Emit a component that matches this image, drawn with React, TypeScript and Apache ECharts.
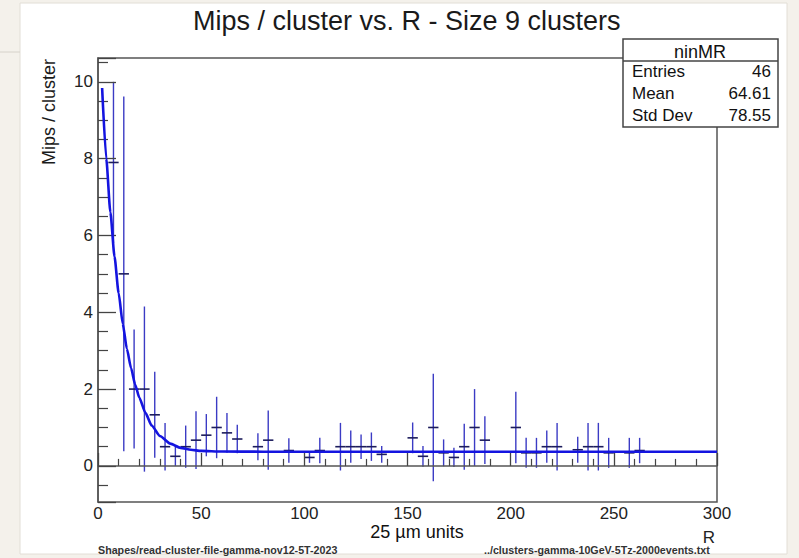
import React, { useEffect, useRef } from "react";
import * as echarts from "echarts";

// ---- data ----
const binWidth = 5;
const binCenters = [
  7.5, 12.5, 17.5, 22.5, 27.5, 32.5, 37.5, 42.5, 47.5, 52.5, 57.5, 62.5, 67.5,
  77.5, 82.5, 92.5, 102.5, 107.5, 117.5, 122.5, 127.5, 132.5, 137.5, 152.5,
  157.5, 162.5, 167.5, 172.5, 177.5, 182.5, 187.5, 202.5, 207.5, 212.5, 217.5,
  222.5, 232.5, 237.5, 242.5, 247.5, 257.5, 262.5,
];
const values = [
  7.9, 5.0, 2.0, 2.0, 1.33, 0.5, 0.25, 0.5, 0.67, 0.8, 1.0, 0.86, 0.7,
  0.5, 0.67, 0.4, 0.22, 0.4, 0.5, 0.5, 0.5, 0.5, 0.3, 0.73,
  0.25, 1.0, 0.34, 0.22, 0.5, 1.0, 0.67, 1.0, 0.34, 0.34, 0.5,
  0.5, 0.42, 0.5, 0.5, 0.34, 0.34, 0.4,
];
const errors = [
  2.1, 4.62, 1.55, 2.15, 1.12, 0.62, 0.25, 0.55, 0.75, 0.55, 0.8, 0.52, 0.37,
  0.35, 0.77, 0.32, 0.14, 0.33, 0.62, 0.42, 0.32, 0.37, 0.22, 0.4,
  0.27, 1.4, 0.35, 0.25, 0.6, 1.0, 0.62, 0.93, 0.39, 0.39, 0.42,
  0.62, 0.34, 0.62, 0.62, 0.39, 0.39, 0.33,
];
// fit curve, points
const fitR = [2, 4, 6, 8, 10, 12, 14, 16, 18, 20, 23, 26, 30, 35, 40, 45, 50, 60, 80, 300];
const fitValues = [9.84, 8.0, 6.6, 5.45, 4.5, 3.7, 3.05, 2.55, 2.12, 1.78, 1.38, 1.05, 0.78, 0.58, 0.47, 0.42, 0.39, 0.375, 0.37, 0.37];

const xMin = 0;
const xMax = 300;
const xInterval = 50;
const yMin = -0.94;
const yMax = 10.62;

const titleText = "Mips / cluster vs. R - Size 9 clusters";
const yTitle = "Mips / cluster";
const xUnits = "25 µm units";
const xTitle = "R";
const leftFooter = "Shapes/read-cluster-file-gamma-nov12-5T-2023";
const rightFooter = "../clusters-gamma-10GeV-5Tz-2000events.txt";
const statsName = "ninMR";
const statsLabels = ["Entries", "Mean", "Std Dev"];
const statsValues = ["46", "64.61", "78.55"];

const FONT = "'Liberation Sans', Arial, Helvetica, sans-serif";

export default function App() {
  const ref = useRef<HTMLDivElement>(null);

  useEffect(() => {
    if (!ref.current) return;
    const chart = echarts.init(ref.current, undefined, { renderer: "svg" });

    const errData = binCenters.map((r, i) => [r, values[i], errors[i]]);
    const fitData = fitR.map((r, i) => [r, fitValues[i]]);

    const statsRowsY = [71.5, 93.5, 115.5];
    const statsGraphics: any[] = [];
    statsLabels.forEach((lab, i) => {
      statsGraphics.push({
        type: "text",
        z: 101,
        x: 632,
        y: statsRowsY[i],
        style: { text: lab, font: `17px ${FONT}`, fill: "#111", align: "left", verticalAlign: "middle" },
      });
      statsGraphics.push({
        type: "text",
        z: 101,
        x: 771,
        y: statsRowsY[i],
        style: { text: statsValues[i], font: `17px ${FONT}`, fill: "#111", align: "right", verticalAlign: "middle" },
      });
    });

    const option: any = {
      animation: false,
      backgroundColor: "#f4f1eb",
      grid: {
        left: 98,
        right: 82,
        top: 58,
        bottom: 56,
        show: true,
        backgroundColor: "transparent",
        borderColor: "#555",
        borderWidth: 1.5,
      },
      xAxis: {
        type: "value",
        min: xMin,
        max: xMax,
        interval: xInterval,
        z: 4,
        axisLine: { show: true, lineStyle: { color: "#555", width: 1.5 } },
        axisTick: { show: true, inside: true, length: 13, lineStyle: { color: "#444", width: 1.3 } },
        minorTick: { show: true, splitNumber: 5, length: 7, lineStyle: { color: "#444", width: 1.2 } },
        splitLine: { show: false },
        minorSplitLine: { show: false },
        axisLabel: { fontSize: 17, color: "#222", margin: 3, fontFamily: FONT },
      },
      yAxis: {
        type: "value",
        min: yMin,
        max: yMax,
        splitNumber: 5,
        z: 4,
        axisLine: { show: true, lineStyle: { color: "#555", width: 1.5 } },
        axisTick: { show: true, inside: true, length: 18, lineStyle: { color: "#444", width: 1.3 } },
        minorTick: { show: true, splitNumber: 4, length: 10, lineStyle: { color: "#444", width: 1.2 } },
        splitLine: { show: false },
        minorSplitLine: { show: false },
        axisLabel: {
          fontSize: 17,
          color: "#222",
          margin: 5,
          fontFamily: FONT,
          showMinLabel: false,
          showMaxLabel: false,
          formatter: (v: number) => (Math.abs(v - Math.round(v)) < 1e-6 && Math.round(v) % 2 === 0 ? String(Math.round(v)) : ""),
        },
      },
      series: [
        {
          type: "custom",
          z: 3,
          data: errData,
          encode: { x: 0, y: 1 },
          renderItem: (params: any, api: any) => {
            const x = api.value(0);
            const y = api.value(1);
            const e = api.value(2);
            const top = api.coord([x, y + e]);
            const bot = api.coord([x, y - e]);
            const left = api.coord([x - binWidth / 2, y]);
            const right = api.coord([x + binWidth / 2, y]);
            return {
              type: "group",
              children: [
                {
                  type: "line",
                  shape: { x1: top[0], y1: top[1], x2: bot[0], y2: bot[1] },
                  style: { stroke: "#3b3bc4", lineWidth: 1.4 },
                },
                {
                  type: "line",
                  shape: { x1: left[0], y1: left[1], x2: right[0], y2: right[1] },
                  style: { stroke: "#1c1c5c", lineWidth: 1.6 },
                },
              ],
            };
          },
        },
        {
          type: "line",
          z: 5,
          data: fitData,
          showSymbol: false,
          symbol: "none",
          smooth: 0.2,
          smoothMonotone: "x",
          lineStyle: { color: "#1414e0", width: 2.6 },
        },
      ],
      graphic: [
        // canvas sheet
        {
          type: "rect",
          z: -10,
          shape: { x: 20, y: 3, width: 767, height: 551 },
          style: { fill: "#ffffff", stroke: "#e2ded6", lineWidth: 1 },
        },
        {
          type: "line",
          z: -10,
          shape: { x1: 0, y1: 52, x2: 20, y2: 52 },
          style: { stroke: "#d6d2ca", lineWidth: 1 },
        },
        {
          type: "text",
          z: 50,
          x: 193,
          y: 21,
          style: { text: titleText, font: `27px ${FONT}`, fill: "#1a1a1a", align: "left", verticalAlign: "middle" },
        },
        {
          type: "text",
          z: 50,
          x: 48.5,
          y: 112,
          rotation: Math.PI / 2,
          style: { text: yTitle, font: `18px ${FONT}`, fill: "#1a1a1a", align: "center", verticalAlign: "middle" },
        },
        {
          type: "text",
          z: 50,
          x: 417,
          y: 531.5,
          style: { text: xUnits, font: `18px ${FONT}`, fill: "#111", align: "center", verticalAlign: "middle" },
        },
        {
          type: "text",
          z: 50,
          x: 715,
          y: 537,
          style: { text: xTitle, font: `17px ${FONT}`, fill: "#222", align: "right", verticalAlign: "middle" },
        },
        {
          type: "text",
          z: 50,
          x: 98,
          y: 550,
          style: { text: leftFooter, font: `bold 10.7px ${FONT}`, fill: "#333", align: "left", verticalAlign: "middle" },
        },
        {
          type: "text",
          z: 50,
          x: 484,
          y: 550,
          style: { text: rightFooter, font: `bold 10.7px ${FONT}`, fill: "#333", align: "left", verticalAlign: "middle" },
        },
        // stats box
        {
          type: "rect",
          z: 100,
          shape: { x: 623, y: 39, width: 155, height: 88 },
          style: { fill: "#ffffff", stroke: "#444", lineWidth: 1.5 },
        },
        {
          type: "line",
          z: 101,
          shape: { x1: 623, y1: 61, x2: 778, y2: 61 },
          style: { stroke: "#444", lineWidth: 1.5 },
        },
        {
          type: "text",
          z: 101,
          x: 700,
          y: 52,
          style: { text: statsName, font: `18px ${FONT}`, fill: "#111", align: "center", verticalAlign: "middle" },
        },
        ...statsGraphics,
      ],
    };

    chart.setOption(option);
    return () => chart.dispose();
  }, []);

  return (
    <div
      ref={ref}
      style={{ position: "fixed", left: 0, top: 0, width: 799, height: 558 }}
    />
  );
}
